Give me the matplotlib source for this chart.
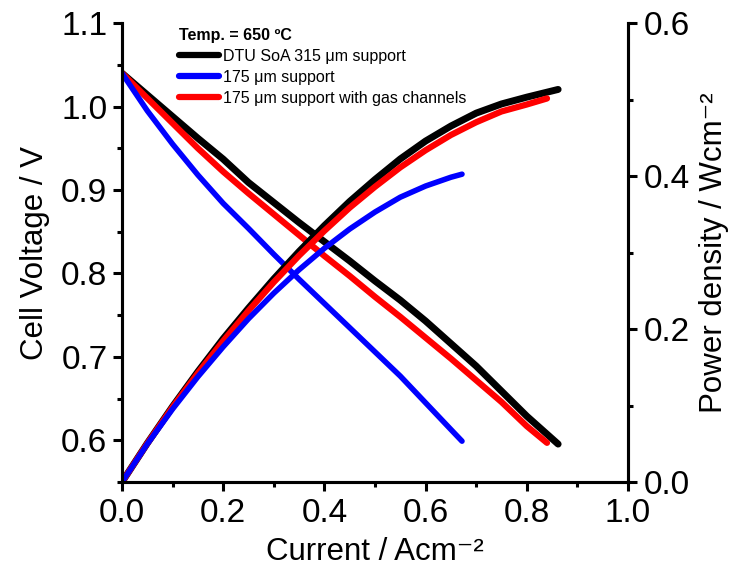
import numpy as np
import matplotlib
matplotlib.use("Agg")
import matplotlib.pyplot as plt

plt.rcParams['font.family'] = ['Liberation Sans', 'DejaVu Sans']

# current density (A/cm2) and readings
i_black = [0, 0.05, 0.1, 0.15, 0.2, 0.25, 0.3, 0.35, 0.4, 0.45, 0.5, 0.55, 0.6, 0.65, 0.7, 0.75, 0.8, 0.862]
v_black = [1.04, 1.014, 0.988, 0.962, 0.937, 0.909, 0.885, 0.861, 0.838, 0.815, 0.791, 0.768, 0.743, 0.716, 0.689, 0.659, 0.629, 0.5955]
p_black = [0, 0.0507, 0.0988, 0.1443, 0.1874, 0.2273, 0.2655, 0.3014, 0.3352, 0.3668, 0.3955, 0.4224, 0.4458, 0.4654, 0.4823, 0.4943, 0.5032, 0.5133]

i_red = [0, 0.05, 0.1, 0.15, 0.2, 0.25, 0.3, 0.35, 0.4, 0.45, 0.5, 0.55, 0.6, 0.65, 0.7, 0.75, 0.8, 0.84]
v_red = [1.04, 1.01, 0.98, 0.95, 0.922, 0.896, 0.871, 0.846, 0.821, 0.797, 0.772, 0.748, 0.723, 0.698, 0.672, 0.646, 0.617, 0.597]
p_red = [0, 0.0505, 0.098, 0.1425, 0.1844, 0.224, 0.2613, 0.2961, 0.3284, 0.3587, 0.386, 0.4114, 0.4338, 0.4537, 0.4704, 0.4845, 0.4936, 0.5015]

i_blue = [0, 0.05, 0.1, 0.15, 0.2, 0.25, 0.3, 0.35, 0.4, 0.45, 0.5, 0.55, 0.6, 0.65, 0.672]
v_blue = [1.04, 0.995, 0.955, 0.918, 0.884, 0.854, 0.823, 0.793, 0.764, 0.735, 0.706, 0.677, 0.645, 0.613, 0.599]
p_blue = [0, 0.0498, 0.0955, 0.1377, 0.1768, 0.2135, 0.2469, 0.2776, 0.3056, 0.3308, 0.353, 0.3724, 0.387, 0.3985, 0.4025]

labels = ['DTU SoA 315 \u03bcm support', '175 \u03bcm support', '175 \u03bcm support with gas channels']

fig = plt.figure(figsize=(7.38, 5.78), dpi=100)
ax = fig.add_axes([0.1653, 0.166, 0.6856, 0.794])
ax2 = ax.twinx()

l1, = ax.plot(i_black, v_black, color='black', lw=5.0, solid_capstyle='round')
l3, = ax.plot(i_red, v_red, color='red', lw=4.5, solid_capstyle='round')
l2, = ax.plot(i_blue, v_blue, color='blue', lw=4.0, solid_capstyle='round')
ax2.plot(i_black, p_black, color='black', lw=5.0, solid_capstyle='round')
ax2.plot(i_red, p_red, color='red', lw=4.5, solid_capstyle='round')
ax2.plot(i_blue, p_blue, color='blue', lw=4.0, solid_capstyle='round')

ax.set_xlim(0, 1.0)
ax.set_ylim(0.55, 1.1)
ax2.set_ylim(0, 0.6)
ax.set_xticks(np.arange(0, 1.01, 0.2))
ax.set_xticks(np.arange(0, 1.01, 0.1), minor=True)
ax.set_yticks(np.arange(0.6, 1.11, 0.1))
ax.set_yticks(np.arange(0.55, 1.11, 0.05), minor=True)
ax2.set_yticks(np.arange(0, 0.61, 0.2))
ax2.set_yticks(np.arange(0, 0.61, 0.1), minor=True)
ax.xaxis.set_major_formatter(matplotlib.ticker.FormatStrFormatter('%.1f'))
ax.yaxis.set_major_formatter(matplotlib.ticker.FormatStrFormatter('%.1f'))
ax2.yaxis.set_major_formatter(matplotlib.ticker.FormatStrFormatter('%.1f'))

for a in (ax, ax2):
    a.spines['top'].set_visible(False)
    for s in a.spines.values():
        s.set_linewidth(2.2)
    a.tick_params(which='major', direction='out', length=6.5, width=2.2, labelsize=24, pad=5)
    a.tick_params(which='minor', direction='out', length=3.6, width=2.2)
ax.tick_params(axis='y', pad=4)

ax.set_xlabel('Current / Acm\u207b\u00b2', fontsize=22.5, labelpad=6)
ax.set_ylabel('Cell Voltage / V', fontsize=22.5, labelpad=8)
ax2.set_ylabel('Power density / Wcm\u207b\u00b2', fontsize=22.5, labelpad=6)

leg = ax2.legend([l1, l2, l3], labels, loc='upper left', bbox_to_anchor=(0.112, 0.99),
                 frameon=False, fontsize=11.5, title='Temp. = 650 \u00baC',
                 title_fontproperties={'weight': 'bold', 'size': 11.5},
                 alignment='left', handlelength=2.5, handletextpad=0.25,
                 labelspacing=0.38, borderpad=0, borderaxespad=0)
for h in leg.get_lines():
    h.set_linewidth(4.5)
    h.set_solid_capstyle('round')

fig.savefig('out.png', dpi=100)
